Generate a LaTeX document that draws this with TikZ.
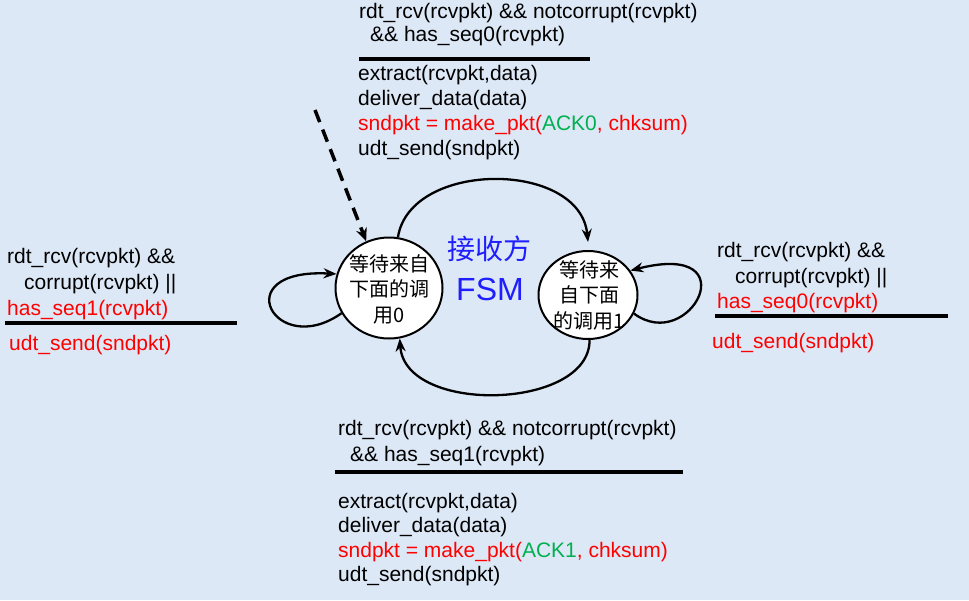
\documentclass[tikz,border=0pt]{standalone}
\usepackage{fontspec}
\setmainfont{Liberation Sans}
\newfontfamily\cjk{Noto Sans CJK SC}
\usetikzlibrary{arrows.meta,shapes.geometric}
\definecolor{bg}{RGB}{221,232,246}
\definecolor{ared}{RGB}{255,0,0}
\definecolor{agreen}{RGB}{0,176,80}
\definecolor{fsmblue}{RGB}{30,30,255}
\begin{document}
\begin{tikzpicture}[x=1pt,y=-1pt,
  txt/.style={anchor=base west, inner sep=0pt, font=\fontsize{21}{25}\selectfont},
  redtxt/.style={txt, text=ared},
  rulel/.style={line width=3.5pt},
  state/.style={ellipse, draw, line width=2pt, fill=white, inner sep=0pt},
  ctext/.style={font=\cjk\fontsize{20}{25.5}\selectfont, align=center, inner sep=0pt},
  trans/.style={line width=2.3pt, -{Stealth[length=13pt,width=10pt]}},
]
\path[fill=bg] (0,0) rectangle (969,600);

% states
\node[state, minimum width=107pt, minimum height=101pt] (L) at (389,288) {};
\node[state, minimum width=99pt, minimum height=88pt] (R) at (588,295) {};
\node[ctext] (Lt) at (389,289) {等待来自\\下面的调\\用0};
\node[ctext] (Rt) at (589,295) {等待来\\自下面\\的调用1};

% title
\node[inner sep=0pt, text=fsmblue, font=\cjk\fontsize{28}{30}\selectfont] (title1) at (489,249) {接收方};
\node[inner sep=0pt, text=fsmblue, font=\fontsize{32}{34}\selectfont] (title2) at (490,289) {FSM};

% initial dashed arrow
\coordinate (init) at (315,110);
\draw[line width=3.5pt, dash pattern=on 13pt off 8pt, -{Stealth[length=13pt,width=11pt]}] (init) -- (L.116);

% transitions
\draw[trans] (L.80) .. controls (410,160) and (580,160) .. ([yshift=8pt]R.north);
\draw[trans] (R.272) .. controls (590,410) and (405,415) .. (L.282);
\draw[trans] (L.208) .. controls (275,360) and (225,268) .. (L.165);
\draw[trans] (R.-22) .. controls (690,355) and (750,240) .. (R.30);

% top block
\node[txt] (a1) at (359,18) {rdt\_rcv(rcvpkt) \&\& notcorrupt(rcvpkt)};
\node[txt] (a2) at (370,41) {\&\& has\_seq0(rcvpkt)};
\draw[rulel] (359,59) -- (590,59);
\node[txt] (a3) at (358,80) {extract(rcvpkt,data)};
\node[txt] (a4) at (358,105) {deliver\_data(data)};
\node[redtxt] (a5) at (358,130) {sndpkt = make\_pkt({\color{agreen}ACK0}, chksum)};
\node[txt] (a6) at (358,155) {udt\_send(sndpkt)};

% left block
\node[txt] (b1) at (7,263) {rdt\_rcv(rcvpkt) \&\&};
\node[txt] (b2) at (24,289) {corrupt(rcvpkt) ||};
\node[redtxt] (b3) at (7,315) {has\_seq1(rcvpkt)};
\draw[rulel] (5,323) -- (237,323);
\node[redtxt] (b4) at (9,350) {udt\_send(sndpkt)};

% right block
\node[txt] (c1) at (717,257) {rdt\_rcv(rcvpkt) \&\&};
\node[txt] (c2) at (735,283) {corrupt(rcvpkt) ||};
\node[redtxt] (c3) at (717,308) {has\_seq0(rcvpkt)};
\draw[rulel] (715,316) -- (948,316);
\node[redtxt] (c4) at (712,348) {udt\_send(sndpkt)};

% bottom block
\node[txt] (d1) at (338,435) {rdt\_rcv(rcvpkt) \&\& notcorrupt(rcvpkt)};
\node[txt] (d2) at (350,461) {\&\& has\_seq1(rcvpkt)};
\draw[rulel] (335,472) -- (683,472);
\node[txt] (d3) at (338,508) {extract(rcvpkt,data)};
\node[txt] (d4) at (338,532) {deliver\_data(data)};
\node[redtxt] (d5) at (338,557) {sndpkt = make\_pkt({\color{agreen}ACK1}, chksum)};
\node[txt] (d6) at (338,581) {udt\_send(sndpkt)};
\end{tikzpicture}
\end{document}
